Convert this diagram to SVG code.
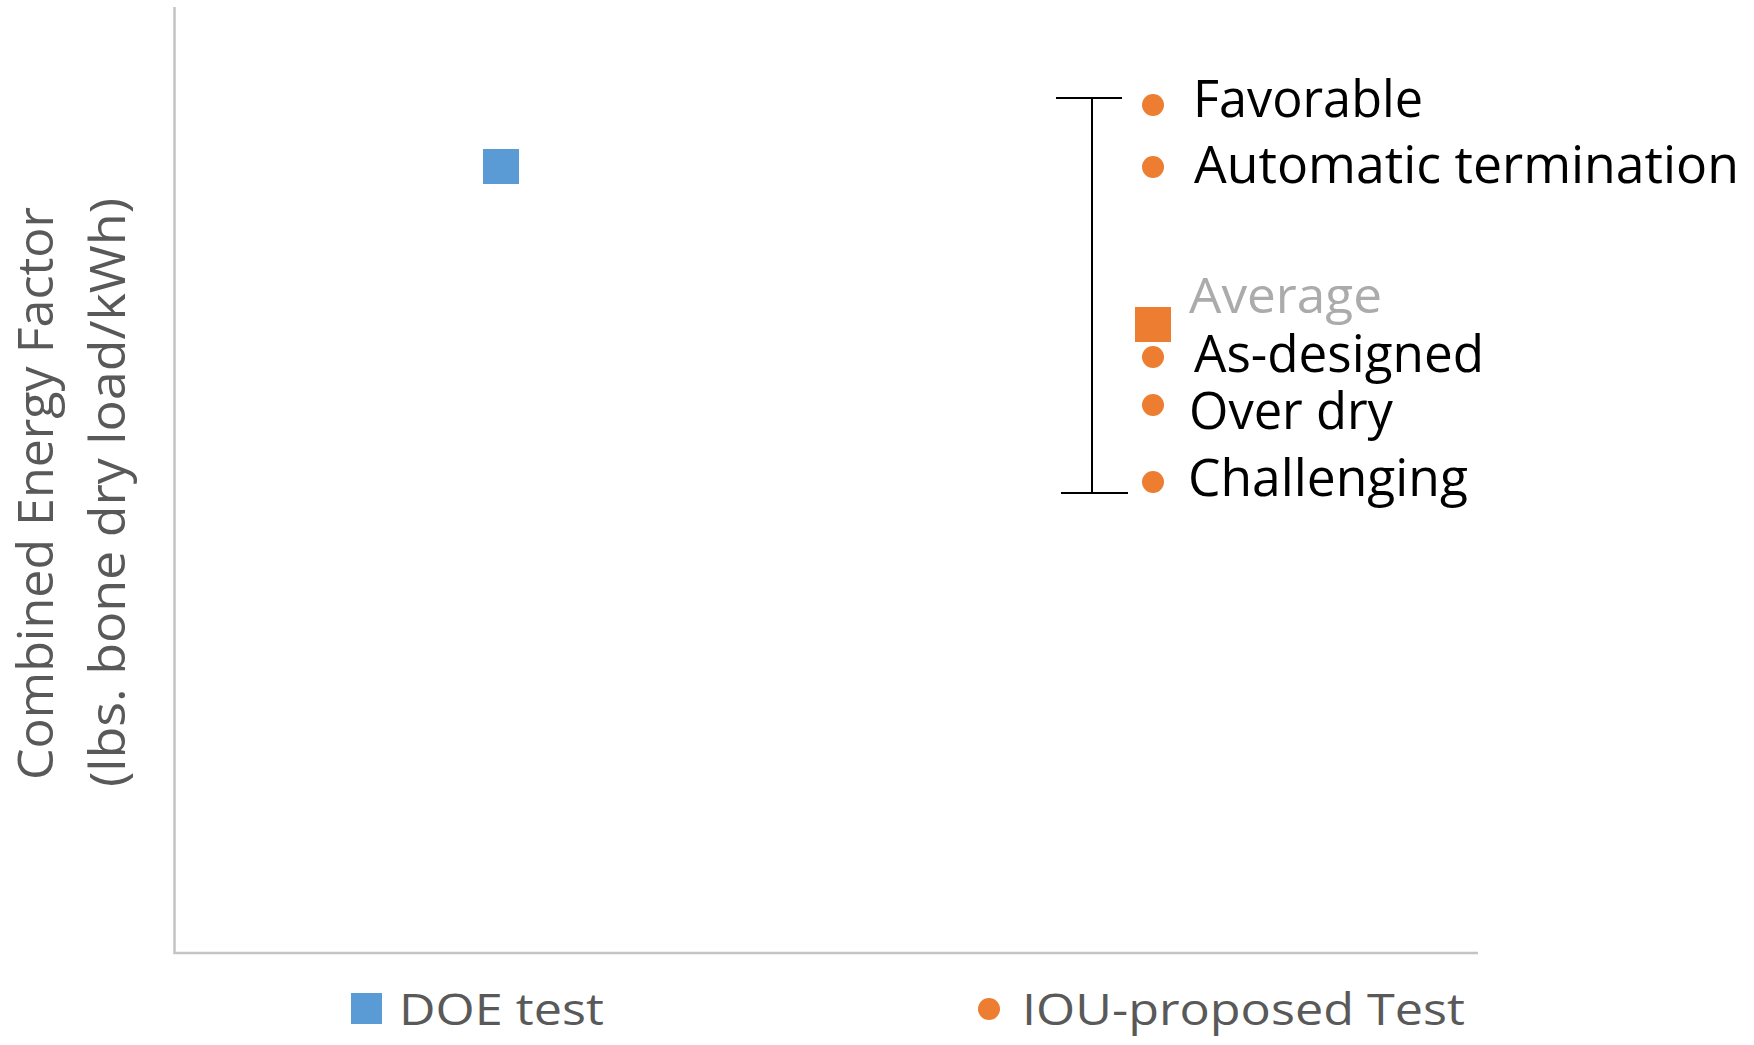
<svg xmlns="http://www.w3.org/2000/svg" width="1754" height="1045" viewBox="0 0 1754 1045">
  <style>
    .axis { stroke: #c4c4c4; stroke-width: 2.5; fill: none; }
    .bracket { stroke: #000000; stroke-width: 2; fill: none; }
    .ytitle { font-family: "Open Sans", "Liberation Sans", sans-serif; font-size: 50px; fill: #595959; }
    .label { font-family: "Open Sans", "Liberation Sans", sans-serif; font-size: 51px; fill: #000000; }
    .label-avg { font-family: "Open Sans", "Liberation Sans", sans-serif; font-size: 50px; fill: #ababab; }
    .legend { font-family: "Open Sans", "Liberation Sans", sans-serif; font-size: 43px; fill: #595959; }
    .doe { fill: #5b9bd5; }
    .iou { fill: #ed7d31; }
  </style>

  <rect x="0" y="0" width="1754" height="1045" fill="#ffffff"/>

  <!-- plot area axes -->
  <g id="axes">
    <path class="axis" d="M174.5,7 V953 H1478"/>
  </g>

  <!-- y-axis title -->
  <g id="y-title">
    <text class="ytitle" transform="translate(53,493.5) rotate(-90)" text-anchor="middle" textLength="573" lengthAdjust="spacingAndGlyphs">Combined Energy Factor</text>
    <text class="ytitle" transform="translate(125,492.5) rotate(-90)" text-anchor="middle" textLength="589" lengthAdjust="spacingAndGlyphs">(lbs. bone dry load/kWh)</text>
  </g>

  <!-- DOE test data point -->
  <g id="doe-point">
    <rect class="doe" x="483" y="149" width="36" height="35"/>
  </g>

  <!-- range bracket for IOU-proposed test -->
  <g id="connectors">
    <line class="bracket" x1="1056" y1="98" x2="1122" y2="98"/>
    <line class="bracket" x1="1092" y1="98" x2="1092" y2="493"/>
    <line class="bracket" x1="1061" y1="493" x2="1128" y2="493"/>
  </g>

  <!-- IOU-proposed test points -->
  <g id="iou-favorable">
    <circle class="iou" cx="1153" cy="105" r="11"/>
    <text class="label" x="1193" y="117" textLength="230" lengthAdjust="spacingAndGlyphs">Favorable</text>
  </g>
  <g id="iou-automatic">
    <circle class="iou" cx="1153" cy="167" r="11"/>
    <text class="label" x="1194" y="183" textLength="545" lengthAdjust="spacingAndGlyphs">Automatic termination</text>
  </g>
  <g id="iou-average">
    <rect class="iou" x="1135" y="307" width="36" height="35"/>
    <text class="label-avg" x="1189" y="313" textLength="193" lengthAdjust="spacingAndGlyphs">Average</text>
  </g>
  <g id="iou-as-designed">
    <circle class="iou" cx="1153" cy="357" r="11"/>
    <text class="label" x="1194" y="372" textLength="290" lengthAdjust="spacingAndGlyphs">As-designed</text>
  </g>
  <g id="iou-over-dry">
    <circle class="iou" cx="1153" cy="405" r="11"/>
    <text class="label" x="1189" y="429" textLength="204" lengthAdjust="spacingAndGlyphs">Over dry</text>
  </g>
  <g id="iou-challenging">
    <circle class="iou" cx="1153" cy="482" r="11"/>
    <text class="label" x="1188" y="496" textLength="280" lengthAdjust="spacingAndGlyphs">Challenging</text>
  </g>

  <!-- legend -->
  <g id="legend-doe">
    <rect class="doe" x="351" y="993" width="31" height="31"/>
    <text class="legend" x="399" y="1025" textLength="205" lengthAdjust="spacingAndGlyphs">DOE test</text>
  </g>
  <g id="legend-iou">
    <circle class="iou" cx="989" cy="1009" r="11"/>
    <text class="legend" x="1022" y="1025" textLength="443" lengthAdjust="spacingAndGlyphs">IOU-proposed Test</text>
  </g>
</svg>
